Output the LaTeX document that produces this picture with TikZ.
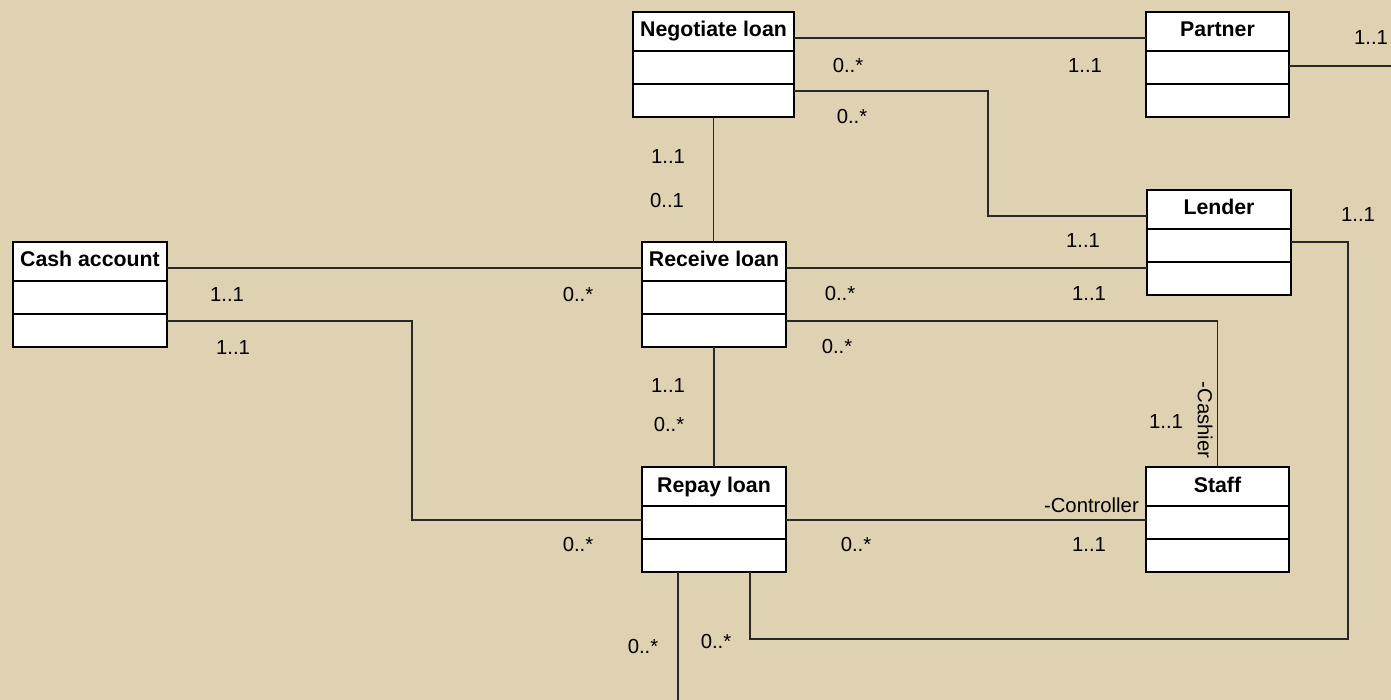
\documentclass[tikz,border=0pt]{standalone}
\usepackage{fontspec}
\setmainfont{Liberation Sans}
\usetikzlibrary{calc}
\definecolor{bg}{RGB}{223,210,178}
\definecolor{conn}{RGB}{40,40,40}
\newcommand{\umlclass}[5]{%
  \node[classbox, minimum width=#4pt] (#1) at (#2,#3) {};
  \draw[sepline] ($(#1.north west)+(0,39)$) -- ($(#1.north east)+(0,39)$);
  \draw[sepline] ($(#1.north west)+(0,72)$) -- ($(#1.north east)+(0,72)$);
  \node[ttl, anchor=base] (#1-t) at ($(#1.north)+(0,25)$) {#5};
}
\begin{document}
\begin{tikzpicture}[x=1pt,y=-1pt,
  classbox/.style={draw=black, fill=white, line width=2pt, inner sep=0pt, outer sep=0pt, anchor=north west, minimum height=105pt},
  sepline/.style={draw=black, line width=2pt},
  ttl/.style={font=\bfseries\fontsize{21.3}{25}\selectfont, inner sep=0pt},
  lbl/.style={font=\fontsize{20.3}{24}\selectfont, inner sep=0pt, text=black},
  assoc/.style={draw=conn, line width=1.3pt}]
\fill[bg] (0,0) rectangle (1391,700);
\useasboundingbox (0,0) rectangle (1391,700);

\coordinate (downend) at (678,700);
\coordinate (rightend) at (1391,66);

% classes
\umlclass{neg}{633}{12}{161}{Negotiate loan}
\umlclass{partner}{1146}{12}{143}{Partner}
\umlclass{lender}{1147}{190}{144}{Lender}
\umlclass{cash}{13}{242}{154}{Cash account}
\umlclass{rec}{642}{242}{144}{Receive loan}
\umlclass{repay}{642}{467}{144}{Repay loan}
\umlclass{staff}{1146}{467}{143}{Staff}

% associations
\draw[assoc] ($(neg.north east)+(0,26)$) -- ($(partner.north west)+(0,26)$);
\draw[assoc] ($(neg.north east)+(0,79)$) -- ++(194,0) |- ($(lender.north west)+(0,26)$);
\draw[assoc] (neg.south) -- (neg.south |- rec.north);
\draw[assoc] ($(cash.north east)+(0,26)$) -- ($(rec.north west)+(0,26)$);
\draw[assoc] ($(cash.north east)+(0,79)$) -- ++(245,0) |- ($(repay.north west)+(0,53)$);
\draw[assoc] ($(rec.north east)+(0,26)$) -- ($(lender.north west)+(0,78)$);
\draw[assoc] ($(rec.north east)+(0,79)$) -| (staff.north);
\draw[assoc] (rec.south) -- (repay.north);
\draw[assoc] ($(repay.north east)+(0,53)$) -- ($(staff.north west)+(0,53)$);
\draw[assoc] ($(repay.south east)+(-36,0)$) -- ++(0,67) -| ($(lender.north east)+(57,52)$) -- ($(lender.north east)+(0,52)$);
\draw[assoc] ($(repay.south west)+(36,0)$) -- (downend);
\draw[assoc] ($(partner.north east)+(0,54)$) -- (rightend);

% multiplicities and roles
\node[lbl] (m1) at (848,66) {0..*};
\node[lbl] (m2) at (1085,66) {1..1};
\node[lbl] (m3) at (852,117) {0..*};
\node[lbl] (m4) at (1083,241) {1..1};
\node[lbl] (m5) at (668,157) {1..1};
\node[lbl] (m6) at (667,201) {0..1};
\node[lbl] (m7) at (227,295) {1..1};
\node[lbl] (m8) at (578,295) {0..*};
\node[lbl] (m9) at (233,348) {1..1};
\node[lbl] (m10) at (578,545) {0..*};
\node[lbl] (m11) at (840,294) {0..*};
\node[lbl] (m12) at (1089,294) {1..1};
\node[lbl] (m13) at (837,347) {0..*};
\node[lbl] (m14) at (1166,422) {1..1};
\node[lbl, rotate=-90] (r1) at (1205,420) {-Cashier};
\node[lbl] (m15) at (668,386) {1..1};
\node[lbl] (m16) at (669,425) {0..*};
\node[lbl] (m17) at (856,545) {0..*};
\node[lbl] (m18) at (1089,545) {1..1};
\node[lbl, anchor=base east] (r2) at (1139,512) {-Controller};
\node[lbl] (m19) at (716,642) {0..*};
\node[lbl] (m20) at (1358,215) {1..1};
\node[lbl] (m21) at (643,647) {0..*};
\node[lbl] (m22) at (1371,38) {1..1};
\end{tikzpicture}
\end{document}
